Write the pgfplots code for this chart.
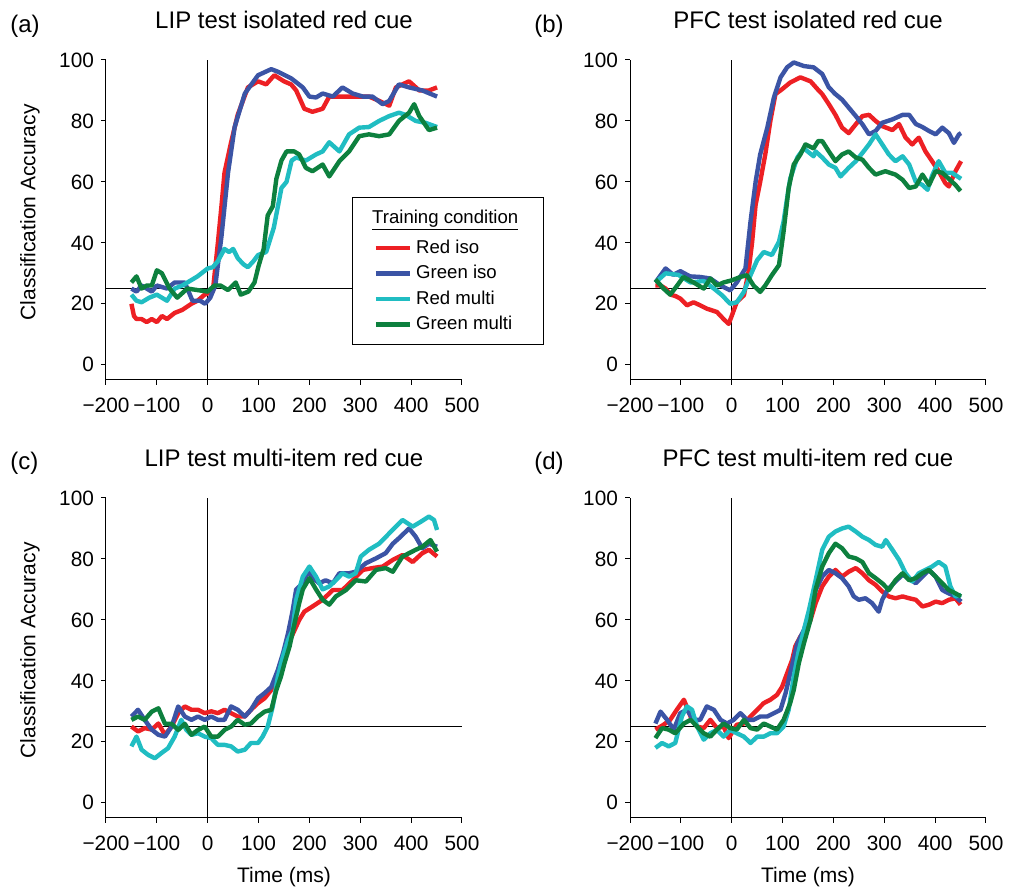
\documentclass[border=0pt]{standalone}
\usepackage{pgfplots}
\pgfplotsset{compat=1.18}
\usepackage{fontspec}
\setmainfont{Liberation Sans}
\definecolor{cred}{RGB}{237,32,36}
\definecolor{cblue}{RGB}{59,84,165}
\definecolor{ccyan}{RGB}{32,189,194}
\definecolor{cgreen}{RGB}{13,128,62}
\pgfplotsset{
  panel/.style={
    scale only axis, width=178pt, height=160pt,
    xmin=-200, xmax=500, ymin=-5, ymax=100,
    axis x line*=bottom, axis y line*=left,
    axis line style={-, line width=0.5pt, black},
    tick align=outside, major tick length=2.5pt,
    tick style={line width=0.5pt, black},
    xtick={-200,-100,0,100,200,300,400,500},
    xticklabels={−200,−100,0,100,200,300,400,500},
    ytick={0,20,40,60,80,100},
    yticklabels={0,20,40,60,80,100},
    tick label style={font=\fontsize{10.4}{12}\selectfont},
    xticklabel style={yshift=-3pt},
    title style={at={(axis description cs:0.5,1)}, anchor=base, yshift=9.5pt, font=\fontsize{12}{14}\selectfont},
    ylabel style={at={(axis description cs:0,0.5238)}, anchor=center, yshift=38pt, font=\fontsize{10.5}{12}\selectfont},
    xlabel style={at={(axis description cs:0.5,0)}, anchor=base, yshift=-32.5pt, font=\fontsize{10.5}{12}\selectfont},
    every axis plot/.append style={line width=2.2pt, line join=round, no markers},
    clip=false,
  },
  refl/.style={black, line width=0.5pt, forget plot},
}
\begin{document}
\begin{tikzpicture}
\useasboundingbox (0,0) rectangle (504.5pt,444pt);
\node[anchor=base west, inner sep=0pt, font=\fontsize{12}{14}\selectfont] at (5pt,427.5pt) {(a)};
\node[anchor=base west, inner sep=0pt, font=\fontsize{12}{14}\selectfont] at (267pt,427.5pt) {(b)};
\node[anchor=base west, inner sep=0pt, font=\fontsize{12}{14}\selectfont] at (5pt,209pt) {(c)};
\node[anchor=base west, inner sep=0pt, font=\fontsize{12}{14}\selectfont] at (267pt,209pt) {(d)};

% ---------------- (a)
\begin{axis}[panel, at={(53pt,254pt)}, anchor=south west,
  title={LIP test isolated red cue}, ylabel={Classification Accuracy},
  legend style={at={(axis cs:284,55)}, anchor=north west, draw=black, line width=0.5pt, fill=white,
    font=\fontsize{9.3}{11}\selectfont, inner xsep=10.5pt, inner ysep=4pt, row sep=0.5pt,
    cells={anchor=west}},
  legend cell align=left]
\addplot[refl] coordinates {(-200,25) (500,25)};
\addplot[refl] coordinates {(0,-5) (0,100)};
\addlegendimage{legend image code/.code={\path[draw=none,fill=none] (0pt,-8.5pt) rectangle (0pt,0pt);}}
\addlegendentry{\hspace*{-22pt}\underline{Training condition}}
\addplot[cred] coordinates {(-150,20) (-145,16) (-140,15) (-130,15) (-120,14) (-110,15) (-100,14) (-90,16) (-80,15) (-65,17) (-50,18) (-32,20) (-20,21) (-6,23) (10,24) (20,40) (27,52) (33,63) (46,73) (59,82) (79,91) (99,93) (115,92) (131,95) (150,93) (164,92) (174,90) (190,84) (206,83) (226,84) (239,88) (265,88) (291,88) (317,88) (337,86.6) (357,85) (370,91) (396,93) (416,90) (435,90) (451,91)};
\addlegendentry{Red iso}
\addplot[cblue] coordinates {(-150,25) (-140,24) (-130,26) (-120,25) (-110,24) (-100,26) (-80,25) (-65,27) (-45,27) (-30,21) (-15,21) (-5,20) (5,22) (15,26) (27,42) (40,63) (53,78) (73,89) (99,95) (125,97) (140,96) (164,94) (187,91) (200,88) (213,87.7) (226,89) (246,88) (265,91) (285,89) (305,88) (324,88) (344,85.5) (357,86.6) (376,92) (396,91) (422,90) (451,88)};
\addlegendentry{Green iso}
\addplot[ccyan] coordinates {(-150,23) (-140,21) (-130,20.5) (-115,22) (-100,23) (-80,21) (-65,25) (-50,26) (-40,27) (-20,29) (0,31.6) (10,32) (20,34) (33,38) (42,37) (50,38) (59,35) (70,33) (79,32) (90,34) (99,36) (115,37) (130,45) (145,58) (155,60) (165,67) (174,68) (193,67) (213,69) (226,70) (239,73) (259,70) (278,75.6) (298,77.8) (317,78) (337,80) (357,81.6) (376,82.7) (389,82) (409,80) (428,79.4) (451,78)};
\addlegendentry{Red multi}
\addplot[cgreen] coordinates {(-150,27) (-140,29) (-130,25) (-120,26) (-110,26) (-100,31) (-90,30) (-75,25) (-60,22) (-40,25) (-20,24.5) (0,24) (13,26) (25,26) (40,24.5) (55,27) (65,23) (80,24) (92,27) (100,32.4) (110,38) (118,49) (128,52) (135,61) (145,67) (155,70) (170,70) (180,69) (193,64.6) (206,63.5) (226,65.7) (239,61.8) (259,66.8) (278,70) (298,75) (317,75.6) (337,75) (357,75.6) (376,80) (396,82.7) (406,85.5) (416,81.6) (435,77) (451,77.8)};
\addlegendentry{Green multi}
\end{axis}

% ---------------- (b)
\begin{axis}[panel, at={(315pt,254pt)}, anchor=south west,
  title={PFC test isolated red cue}]
\addplot[refl] coordinates {(-200,25) (500,25)};
\addplot[refl] coordinates {(0,-5) (0,100)};
\addplot[cred] coordinates {(-150,26) (-140,26) (-130,25) (-120,23) (-110,22.5) (-101,21.7) (-88,19.5) (-75,20.5) (-62,19.5) (-49,18.4) (-29,17.3) (-16,15) (-6,13.4) (0,16) (10,20.6) (24,22.8) (33,30.5) (40,40) (47,52.5) (56,60) (66,69) (76,80) (86,88.8) (99,90.4) (115,92.6) (135,94.3) (155,93) (171,90) (178,88.8) (191,85.5) (204,82) (217,77.8) (230,76) (244,78.9) (257,81.6) (270,82) (283,80) (296,78.3) (316,77) (329,79) (342,74.5) (355,72.3) (368,74.5) (381,70) (394,66.8) (407,63.5) (420,59.6) (427,58.5) (440,63.5) (451,66.8)};
\addplot[cblue] coordinates {(-150,27) (-130,31.6) (-115,29.5) (-101,30.7) (-82,29) (-62,28.8) (-42,28.3) (-22,26) (-3,24.4) (10,27) (27,31.6) (37,47) (47,60) (56,69) (70,77.8) (83,87.7) (96,94.3) (109,97.6) (122,99.2) (142,98) (161,97.6) (178,95.4) (191,91) (204,88.8) (217,87) (230,84.4) (244,81.6) (257,78.9) (270,75.6) (283,76.7) (296,79.4) (316,80.5) (336,82) (349,82) (362,79) (375,78) (388,76.7) (401,75.6) (414,77.8) (427,76) (437,72.8) (447,75.6) (451,76)};
\addplot[ccyan] coordinates {(-150,27) (-130,30) (-105,29.5) (-81,27) (-55,27.5) (-35,25) (-19,22.8) (-3,20) (10,20.5) (24,23.9) (37,29.4) (50,34.3) (63,37) (79,36) (93,40.4) (102,47) (109,54.7) (115,61) (129,68) (142,71) (161,68.4) (165,70) (178,68) (191,65.7) (204,64.6) (214,61.8) (230,64.6) (244,66.8) (257,69.5) (270,72.3) (283,75.6) (296,72.3) (309,69) (322,66.8) (336,68.4) (349,65.7) (362,60) (375,59) (385,57.4) (394,62) (407,66.8) (420,63) (433,63) (451,61)};
\addplot[cgreen] coordinates {(-150,28) (-134,25) (-121,23) (-108,25.8) (-95,28.8) (-75,27) (-55,25) (-42,28.3) (-29,26) (-16,27) (0,27.7) (17,28.8) (30,29.4) (43,26) (56,23.9) (66,26) (79,29.4) (93,32.7) (102,43.7) (112,58) (122,65.7) (135,69) (145,72.3) (161,71) (170,73.4) (178,73.4) (191,70) (204,66.8) (217,69) (230,70) (244,68) (257,67.3) (270,64.6) (283,62.4) (302,63.5) (322,62.4) (336,60.7) (349,58) (362,58.5) (375,62.4) (388,59) (401,63.5) (414,63) (427,61) (440,59) (450,57)};
\end{axis}

% ---------------- (c)
\begin{axis}[panel, at={(53pt,35pt)}, anchor=south west,
  title={LIP test multi-item red cue}, ylabel={Classification Accuracy}, xlabel={Time (ms)}]
\addplot[refl] coordinates {(-200,25) (500,25)};
\addplot[refl] coordinates {(0,-5) (0,100)};
\addplot[cred] coordinates {(-150,25) (-137,23.4) (-124,24.5) (-110,24) (-97,26) (-84,22.3) (-71,25) (-58,29.4) (-45,31.6) (-32,30.5) (-19,30.5) (-6,29.4) (7,30) (20,29.4) (33,30.5) (46,29.4) (59,28.3) (73,28.3) (85,30.5) (99,32.7) (112,34.3) (125,37) (138,42.5) (148,48) (158,52) (171,56.7) (180,60) (190,62.7) (206,64.4) (226,66.6) (246,69.8) (265,69.8) (285,73) (305,76.4) (324,77) (344,77.5) (364,79.7) (383,81.3) (403,79) (422,81.9) (435,83) (451,80.8)};
\addplot[cblue] coordinates {(-150,28.3) (-137,30.5) (-124,27.2) (-110,24) (-97,22.3) (-84,21.7) (-71,25) (-58,31.6) (-45,28.3) (-32,27.2) (-19,28.3) (-6,27.2) (7,28.3) (20,27.2) (33,27.2) (46,31.6) (59,30.5) (73,28.3) (85,30.5) (99,34.3) (112,36) (125,38) (138,43.6) (148,49) (158,55.6) (167,63) (174,70) (187,72) (197,75.8) (206,74) (219,72) (232,73) (246,72) (259,75.3) (278,75.3) (291,75.8) (311,78.6) (331,80.2) (350,81.9) (364,85) (376,86.8) (396,90) (409,87.3) (422,83.5) (435,85) (451,84)};
\addplot[ccyan] coordinates {(-150,18.5) (-140,21.7) (-130,17.4) (-117,15.7) (-104,14.6) (-91,16.3) (-78,17.9) (-65,21.7) (-52,27.2) (-42,23.9) (-32,22.3) (-19,22.8) (-6,21.7) (7,21.2) (20,19) (33,19) (46,18.5) (59,16.8) (73,17.4) (85,19.6) (99,19.6) (108,21.7) (118,25) (128,31.6) (138,41.4) (148,48) (158,53.4) (167,56.7) (174,66.6) (187,74.2) (200,77.5) (213,74.2) (226,70) (239,71) (252,73) (265,75.3) (278,74.2) (291,75.3) (301,80.8) (317,83) (337,85) (357,88.4) (370,90.6) (383,92.8) (403,90.6) (419,92.2) (435,93.9) (445,92.8) (451,89.5)};
\addplot[cgreen] coordinates {(-150,27.2) (-137,28.3) (-124,27.2) (-110,29.9) (-97,31) (-84,25.9) (-71,25.9) (-58,23.9) (-45,25.9) (-32,22.3) (-19,23.9) (-6,25) (7,21.7) (20,21.7) (33,23.9) (46,25) (59,27.2) (73,25.6) (85,26) (99,28.3) (112,29.9) (125,30.5) (135,37) (144,41.4) (151,45.8) (161,51.3) (171,59) (180,65.5) (187,70) (200,73.7) (213,70) (226,66.6) (239,65) (252,67.7) (272,69.8) (291,73) (311,72.6) (331,76.4) (350,77) (364,75.8) (383,80.8) (396,81.9) (409,83) (422,84) (438,86.2) (451,82.4)};
\end{axis}

% ---------------- (d)
\begin{axis}[panel, at={(315pt,35pt)}, anchor=south west,
  title={PFC test multi-item red cue}, xlabel={Time (ms)}]
\addplot[refl] coordinates {(-200,25) (500,25)};
\addplot[refl] coordinates {(0,-5) (0,100)};
\addplot[cred] coordinates {(-150,24) (-134,25.6) (-121,27.2) (-108,30.5) (-94,33.8) (-81,28.3) (-68,25) (-55,24.5) (-42,27.2) (-29,24.5) (-16,25) (-6,21.2) (10,25.6) (24,26) (37,28.3) (50,30.5) (63,32.7) (76,33.8) (89,35.4) (99,38) (109,42.5) (119,46.9) (125,51.3) (135,54.5) (145,56.7) (155,60) (165,65.5) (178,71) (191,74.2) (204,76.4) (217,74.2) (230,75.8) (244,77) (257,75.3) (270,73) (283,71.5) (296,69.3) (309,67.7) (322,67.1) (336,67.7) (349,67.1) (362,66.6) (375,64.4) (388,65) (401,66) (414,65.5) (427,66.6) (440,67.1) (450,65)};
\addplot[cblue] coordinates {(-150,26) (-140,29.9) (-127,27.2) (-114,24) (-101,29.4) (-88,30.5) (-75,27.2) (-62,27.2) (-49,31.6) (-35,30.5) (-22,27.2) (-9,26) (4,27.2) (17,29.4) (30,27.2) (43,27.2) (56,28.3) (70,28.3) (83,29.4) (96,30.5) (106,36) (115,42.5) (129,52.3) (142,56.7) (155,63.3) (165,69.8) (178,74.2) (191,76.4) (204,75.3) (217,73.7) (230,71) (240,67.7) (250,66.6) (263,67.1) (276,65.5) (289,62.7) (296,66.6) (306,69.8) (322,72.6) (336,74.8) (349,73.7) (362,72) (375,74.2) (388,76.4) (401,74.2) (414,69.8) (427,68.7) (440,67.7) (451,66)};
\addplot[ccyan] coordinates {(-150,18) (-137,19.6) (-124,18.5) (-111,19.6) (-98,28.3) (-88,31.6) (-78,30.5) (-68,25) (-55,20.7) (-42,22.8) (-29,23.9) (-16,21.7) (-3,23.9) (10,22.8) (24,21.7) (37,19.6) (50,21.7) (63,21.7) (76,22.8) (89,22.8) (102,25) (112,30.5) (122,41.4) (132,50) (142,56.7) (152,63.3) (165,73) (178,83) (191,87.3) (204,89) (217,90) (230,90.6) (244,89) (257,87.3) (270,86.2) (283,84.6) (296,84) (303,86.2) (316,83) (329,79.7) (342,75.3) (355,72.6) (368,75.3) (381,76.4) (394,77.5) (407,79) (420,77.5) (430,71) (440,67.7) (451,68.2)};
\addplot[cgreen] coordinates {(-150,21.2) (-137,24.5) (-124,24) (-111,22.8) (-94,26) (-81,27.2) (-68,25) (-55,22.8) (-42,21.7) (-29,24) (-16,26) (-3,24.5) (10,24) (24,27.2) (37,24.5) (50,24) (63,26) (76,25) (89,24) (102,27.2) (115,32.7) (122,37) (132,45.8) (142,52.3) (155,60) (165,70) (178,77.5) (191,81.9) (204,85) (217,83.5) (230,80.8) (244,80.2) (257,79) (270,75.3) (283,73.7) (296,72) (309,69.8) (322,73) (336,75.3) (349,73) (362,73.7) (375,75.3) (388,76.4) (401,74.2) (414,72) (427,69.8) (440,68.7) (451,67.7)};
\end{axis}
\end{tikzpicture}
\end{document}
